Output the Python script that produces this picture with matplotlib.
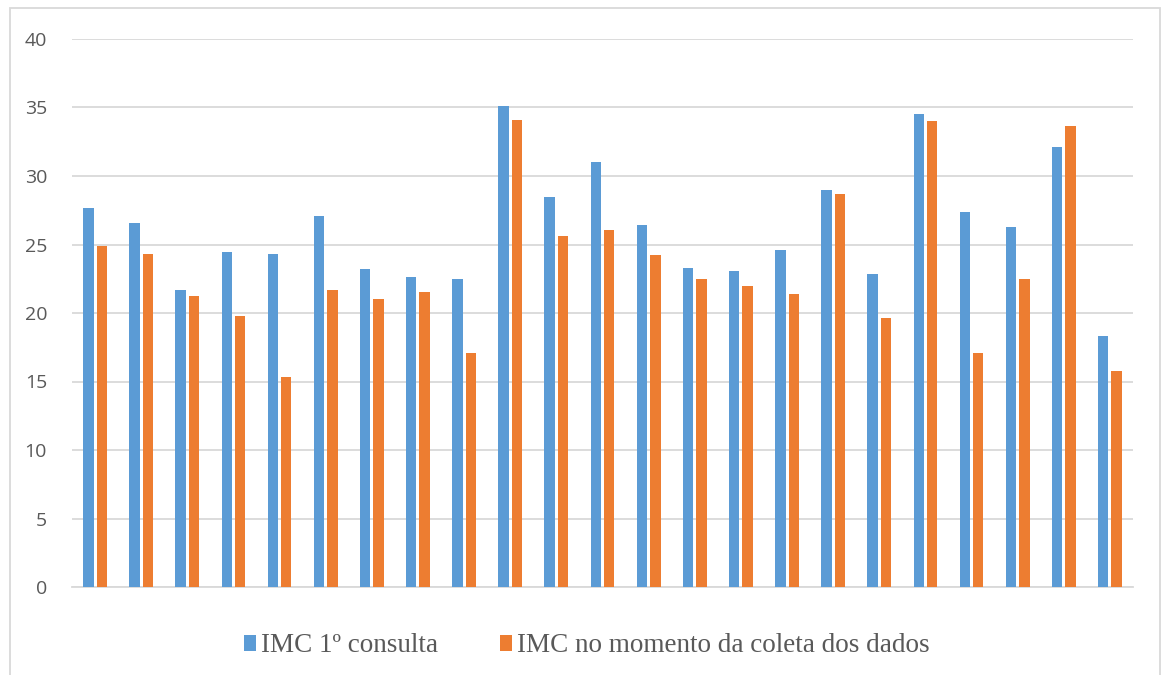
import numpy as np
import matplotlib
matplotlib.use("Agg")
import matplotlib.pyplot as plt
from matplotlib.patches import Rectangle

# dados
imc_primeira = [27.7, 26.55, 21.7, 24.45, 24.3, 27.05, 23.2, 22.65, 22.5, 35.1, 28.45,
                31.05, 26.4, 23.3, 23.1, 24.6, 29.0, 22.85, 34.5, 27.4, 26.3, 32.1, 18.35]
imc_coleta = [24.9, 24.3, 21.25, 19.8, 15.35, 21.7, 21.05, 21.55, 17.1, 34.1, 25.65,
              26.05, 24.25, 22.5, 21.95, 21.4, 28.7, 19.6, 34.0, 17.1, 22.5, 33.65, 15.8]
series = ["IMC 1º consulta", "IMC no momento da coleta dos dados"]

azul = "#5B9BD5"
laranja = "#ED7D31"
cinza = "#D9D9D9"
texto = "#595959"

fig = plt.figure(figsize=(11.65, 6.75), dpi=100)
ax = fig.add_axes([72/1165, 1-587/675, (1133-72)/1165, (587-39)/675])

x = np.arange(len(imc_primeira))
w = 0.225
ax.bar(x - 0.145, imc_primeira, w, color=azul, label=series[0], zorder=3)
ax.bar(x + 0.145, imc_coleta, w, color=laranja, label=series[1], zorder=3)

ax.set_xlim(-0.5, len(x) - 0.5)
ax.set_ylim(0, 40)
ax.set_yticks(range(0, 41, 5))
ax.set_xticks([])
ax.grid(axis="y", color=cinza, linewidth=1.3, zorder=0)
for s in ["top", "right", "left"]:
    ax.spines[s].set_visible(False)
ax.spines["bottom"].set_color(cinza)
ax.spines["bottom"].set_linewidth(1.3)
ax.tick_params(axis="y", length=0, pad=18, labelsize=14, labelcolor=texto)
for t in ax.get_yticklabels():
    t.set_fontfamily("Open Sans")

fig.legend(loc="center", bbox_to_anchor=(0.504, 1-646/675), ncol=2, frameon=False,
           prop={"family": "Liberation Serif", "size": 19.5}, labelcolor=texto,
           handlelength=0.42, handleheight=0.5, handletextpad=0.2, columnspacing=2.3)

# borda externa do grafico
fig.patches.append(Rectangle((10/1165, -0.01), 1150/1165, 1.01 - 8/675,
                             transform=fig.transFigure, fill=False,
                             edgecolor=cinza, linewidth=1.3))

fig.savefig("out.png", dpi=100)
